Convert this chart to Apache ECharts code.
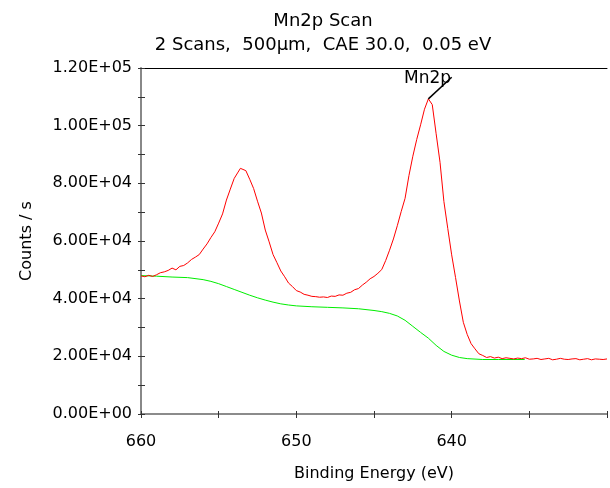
<!DOCTYPE html>
<html>
<head>
<meta charset="utf-8">
<script src="https://cdn.jsdelivr.net/npm/echarts@6/dist/echarts.min.js"></script>
<style>html,body{margin:0;padding:0;background:#fff}#c{width:610px;height:488px}</style>
</head>
<body>
<div id="c"></div>
<script>
const titleText = 'Mn2p Scan';
const subtitleText = '2 Scans,  500\u00b5m,  CAE 30.0,  0.05 eV';
const xTickLabels = [660, 650, 640];
const yTickValues = [0, 20000, 40000, 60000, 80000, 100000, 120000];

const spectrumEnergy = [
 660.00,659.75,659.50,659.25,659.00,658.75,658.50,658.25,658.00,657.75,
 657.50,657.25,657.00,656.75,656.50,656.25,656.00,655.75,655.50,655.25,
 655.00,654.75,654.50,654.25,654.00,653.75,653.60,653.50,653.25,653.00,
 652.75,652.50,652.25,652.00,651.75,651.50,651.25,651.00,650.75,650.50,
 650.25,650.00,649.75,649.50,649.25,649.00,648.75,648.50,648.25,648.00,
 647.75,647.50,647.25,647.00,646.75,646.50,646.25,646.00,645.75,645.50,
 645.25,645.00,644.75,644.50,644.25,644.00,643.75,643.50,643.25,643.00,
 642.75,642.50,642.25,642.00,641.75,641.50,641.25,641.00,640.75,640.50,
 640.25,640.00,639.75,639.50,639.25,639.00,638.75,638.50,638.25,638.00,
 637.75,637.50,637.25,637.00,636.75,636.50,636.25,636.00,635.75,635.50,
 635.25,635.00,634.75,634.50,634.25,634.00,633.75,633.50,633.25,633.00,
 632.75,632.50,632.25,632.00,631.75,631.50,631.25,631.00,630.75,630.50,
 630.25,630.00
];
const spectrumCounts = [
 47900,47600,48100,47700,48300,49000,49300,49800,50600,50000,
 51200,51500,52400,53600,54400,55300,57200,59000,61200,63200,
 66200,69400,74200,78000,81700,83900,85200,84600,84400,81400,
 78200,73800,69700,63800,59700,55300,52500,49600,47600,45400,
 44200,42800,42300,41500,41200,40800,40700,40500,40600,40400,
 40900,40800,41300,41200,41900,42200,43100,43500,44700,45700,
 46900,47700,48800,50100,53200,56800,60700,65300,70200,74800,
 82700,89400,95200,100300,105700,109300,107300,97200,87300,73700,
 64300,55200,47300,39200,31800,27600,24400,22600,20900,20300,
 19600,19900,19400,19700,19200,19500,19300,19100,19400,19200,
 19500,19000,19100,19300,18900,19100,19300,18800,19000,19300,
 19000,18900,19100,19200,18800,19000,19200,18800,19100,19000,
 18900,19100
];

const backgroundEnergy = [
 660.0,659.0,658.0,657.0,656.0,655.5,655.0,654.5,654.0,653.5,
 653.0,652.5,652.0,651.5,651.0,650.5,650.0,649.0,648.0,647.0,
 646.0,645.0,644.5,644.0,643.5,643.0,642.5,642.0,641.5,641.0,
 640.5,640.0,639.5,639.0,638.0,637.0,636.0,635.3
];
const backgroundCounts = [
 48000,47800,47500,47300,46600,46000,45200,44200,43200,42200,
 41200,40300,39500,38800,38200,37800,37500,37200,37000,36800,
 36500,35900,35500,34900,34000,32500,30400,28300,26300,23800,
 21700,20400,19600,19200,18900,18900,18900,18900
];

const peakLabel = 'Mn2p';
const peakPos = [641.5, 109300];
const leaderEnd = [640.0, 116800];
const labelPos = [641.55, 116200];

function zip(a, b) { return a.map((v, i) => [v, b[i]]); }
function sci(v) {
  if (v === 0) return '0.00E+00';
  const e = Math.floor(Math.log10(v));
  const m = v / Math.pow(10, e);
  return m.toFixed(2) + 'E+' + String(e).padStart(2, '0');
}

const FONT = 'DejaVu Sans';
const TICK = '#333';
const chart = echarts.init(document.getElementById('c'), null, { renderer: 'canvas' });
chart.setOption({
  backgroundColor: '#fff',
  animation: false,
  title: {
    text: titleText + '\n' + subtitleText,
    left: 318, textAlign: 'center', top: 4,
    textStyle: { fontFamily: FONT, fontSize: 18, fontWeight: 'normal', color: '#000', lineHeight: 24, align: 'center' }
  },
  grid: { left: 141, right: 0, top: 68, bottom: 74, containLabel: false },
  xAxis: [{
    type: 'value', inverse: true, min: 630, max: 660, interval: 10,
    name: 'Binding Energy (eV)', nameLocation: 'middle', nameGap: 52,
    nameTextStyle: { fontFamily: FONT, fontSize: 16, color: '#000' },
    axisLine: { lineStyle: { color: '#666', width: 1.5 } },
    axisTick: { inside: false, length: 4, lineStyle: { color: TICK } },
    minorTick: { show: true, splitNumber: 2, length: 4, lineStyle: { color: TICK } },
    splitLine: { show: false },
    axisLabel: {
      fontFamily: FONT, fontSize: 16, color: '#000', margin: 20,
      formatter: v => xTickLabels.includes(v) ? String(v) : ''
    }
  }, {
    type: 'value', position: 'top', inverse: true, min: 630, max: 660,
    axisLine: { show: true, onZero: false, lineStyle: { color: '#000', width: 1 } },
    axisTick: { show: false }, axisLabel: { show: false }, splitLine: { show: false }
  }, {
    type: 'value', position: 'bottom', inverse: true, min: 630, max: 660, interval: 10,
    axisLine: { show: false },
    axisTick: { inside: true, length: 3, lineStyle: { color: TICK } },
    minorTick: { show: true, splitNumber: 2, length: 3, lineStyle: { color: TICK } },
    axisLabel: { show: false }, splitLine: { show: false }
  }],
  yAxis: [{
    type: 'value', min: 0, max: 120000, interval: 20000,
    name: 'Counts / s', nameLocation: 'middle', nameGap: 106, nameRotate: 90,
    nameTextStyle: { fontFamily: FONT, fontSize: 16, color: '#000' },
    axisLine: { show: true, lineStyle: { color: '#888', width: 2 } },
    axisTick: { inside: false, length: 3, lineStyle: { color: TICK } },
    minorTick: { show: true, splitNumber: 2, length: 3, lineStyle: { color: TICK } },
    splitLine: { show: false },
    axisLabel: {
      fontFamily: FONT, fontSize: 16, color: '#000', margin: 9,
      formatter: v => yTickValues.includes(v) ? sci(v) : ''
    }
  }, {
    type: 'value', position: 'left', min: 0, max: 120000, interval: 20000,
    axisLine: { show: false },
    axisTick: { inside: true, length: 4, lineStyle: { color: TICK } },
    minorTick: { show: true, splitNumber: 2, length: 4, lineStyle: { color: TICK } },
    axisLabel: { show: false }, splitLine: { show: false }
  }],
  series: [{
    type: 'line', name: 'spectrum', data: zip(spectrumEnergy, spectrumCounts),
    showSymbol: false, lineStyle: { color: '#ff0000', width: 1 }, z: 3,
    markLine: {
      silent: true, symbol: 'none', animation: false,
      lineStyle: { color: '#000', width: 1.5, type: 'solid' },
      label: { show: false },
      data: [[{ coord: peakPos }, { coord: leaderEnd }]]
    },
    markPoint: {
      silent: true, symbol: 'circle', symbolSize: 0,
      data: [{ coord: labelPos, value: peakLabel }],
      label: { show: true, formatter: peakLabel, fontFamily: FONT, fontSize: 17, color: '#000' }
    }
  }, {
    type: 'line', name: 'background', data: zip(backgroundEnergy, backgroundCounts),
    showSymbol: false, lineStyle: { color: '#00ee00', width: 1 }, z: 2
  }]
});
</script>
</body>
</html>
